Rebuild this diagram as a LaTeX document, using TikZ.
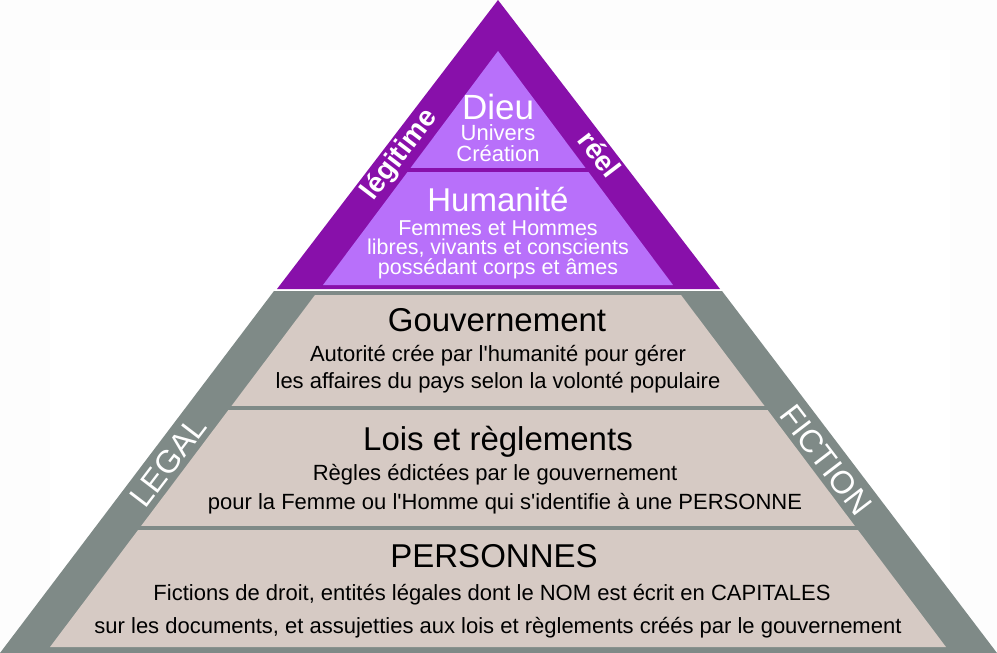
\documentclass[tikz,border=0pt]{standalone}
\usepackage{fontspec}
\setmainfont[Ligatures=ResetAll]{Liberation Sans}
\definecolor{dpurp}{RGB}{136,16,170}
\definecolor{lpurp}{RGB}{184,112,250}
\definecolor{gband}{RGB}{127,138,135}
\definecolor{beige}{RGB}{214,202,196}
\definecolor{offw}{RGB}{253,253,253}
\newcommand{\apos}{\textquotesingle}
\begin{document}
\begin{tikzpicture}[x=1pt,y=-1pt,
  wt/.style={text=white,align=center,inner sep=0pt},
  bt/.style={text=black,align=center,inner sep=0pt},
  fs/.style={font=\fontsize{#1}{#1}\selectfont}]
\useasboundingbox (0,0) rectangle (997,653);
\fill[offw] (0,0) rectangle (997,653);
\fill[white] (50,50) rectangle (950,653);
% purple triangle
\fill[dpurp] (498,0) -- (720,289) -- (277,289) -- cycle;
\fill[lpurp] (498,51) -- (673,285) -- (323,285) -- cycle;
\fill[dpurp] (405,168) rectangle (591,172);
% gray trapezoid
\fill[gband] (274,291) -- (722,291) -- (997,653) -- (0,653) -- cycle;
\fill[beige] (315,295) -- (681,295) -- (946,647) -- (50,647) -- cycle;
\fill[gband] (200,406) rectangle (800,410);
\fill[gband] (100,526) rectangle (900,530);
% texts
\node[wt,fs=35] (dieu) at (498,107) {Dieu};
\node[wt,fs=22] (univ) at (498,133) {Univers};
\node[wt,fs=22] (crea) at (498,154) {Création};
\node[wt,fs=33] (hum) at (498,200) {Humanité};
\node[wt,fs=21.5] (fem) at (498,228) {Femmes et Hommes};
\node[wt,fs=21.5] (lib) at (498,248) {libres, vivants et conscients};
\node[wt,fs=21.5] (pos) at (498,269) {possédant corps et âmes};
\node[bt,fs=33] (gouv) at (497,320) {Gouvernement};
\node[bt,fs=22] (g1) at (498,356) {Autorité crée par l\apos humanité pour gérer};
\node[bt,fs=22] (g2) at (498,383) {les affaires du pays selon la volonté populaire};
\node[bt,fs=33] (lois) at (498,442) {Lois et règlements};
\node[bt,fs=22] (l1) at (495,475) {Règles édictées par le gouvernement};
\node[bt,fs=22] (l2) at (505,504) {pour la Femme ou l\apos Homme qui s\apos identifie à une PERSONNE};
\node[bt,fs=33] (pers) at (494,556) {PERSONNES};
\node[bt,fs=22] (p1) at (492,595) {Fictions de droit, entités légales dont le NOM est écrit en CAPITALES};
\node[bt,fs=22] (p2) at (498,628) {sur les documents, et assujetties aux lois et règlements créés par le gouvernement};
\node[wt,font=\bfseries\fontsize{28}{28}\selectfont,rotate=52.6] (leg) at (400,155) {légitime};
\node[wt,font=\bfseries\fontsize{28}{28}\selectfont,rotate=-52.6] (reel) at (600,154) {réel};
\node[wt,fs=32,rotate=52.6] (legal) at (168,462) {LEGAL};
\node[wt,fs=32,rotate=-52.6] (fict) at (826,460) {FICTION};
\end{tikzpicture}
\end{document}
